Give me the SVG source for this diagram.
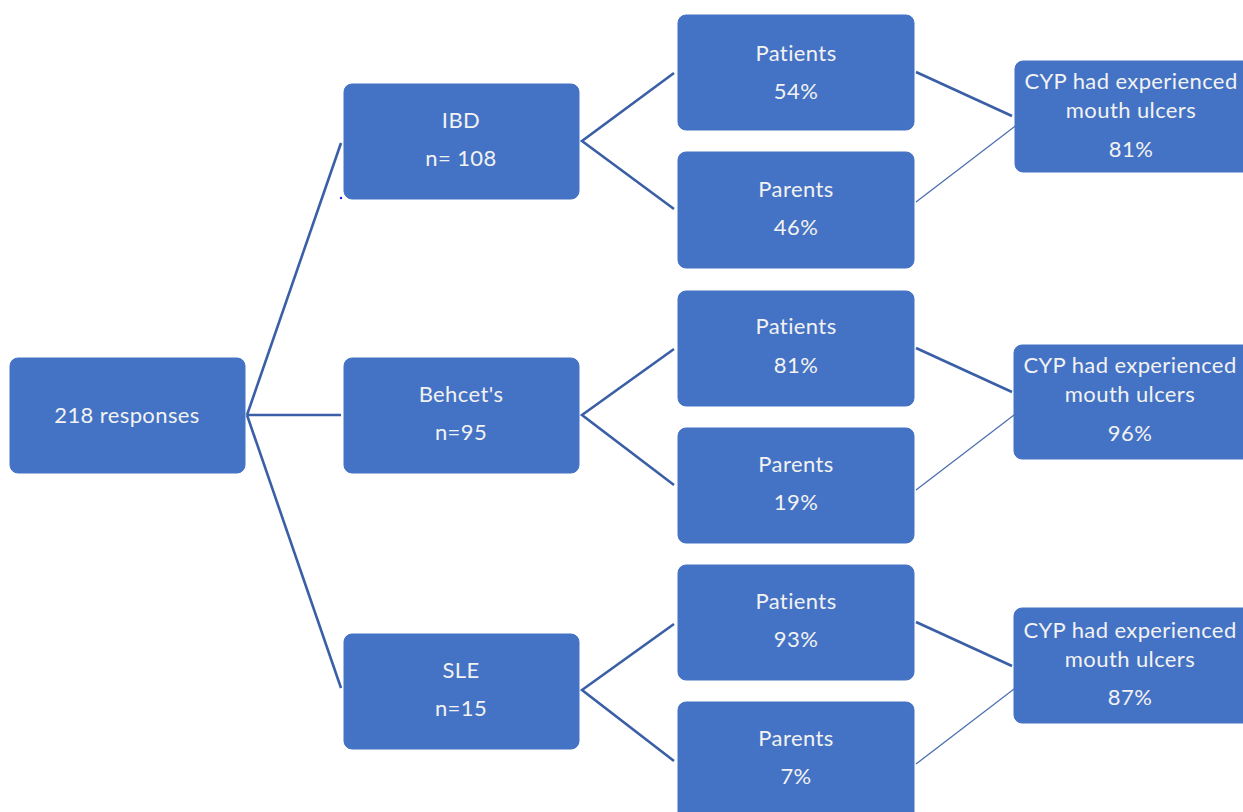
<svg xmlns="http://www.w3.org/2000/svg" width="1243" height="812" viewBox="0 0 1243 812">
<style>
.box{fill:#4472C4;stroke:#4472C4;stroke-width:1}
.t{font-family:Lato,"Open Sans","Liberation Sans",sans-serif;font-size:22px;letter-spacing:0.4px;font-variant-ligatures:none;fill:#F2F2F2;text-anchor:middle}
.c{stroke:#3A5FA6;stroke-width:2.6;fill:none}
.c2{stroke:#4A6EB0;stroke-width:1.3;fill:none}
</style>
<rect width="1243" height="812" fill="#FFFFFF"/>
<g id="connectors">
<line class="c" x1="247" y1="415" x2="341" y2="143"/>
<line class="c" x1="247" y1="415" x2="341" y2="415"/>
<line class="c" x1="247" y1="415" x2="341" y2="688"/>
<polyline class="c" points="674,73 582,141 674,209"/>
<polyline class="c" points="674,349 582,415 674,485"/>
<polyline class="c" points="674,624 582,690 674,761"/>
<line class="c" x1="916" y1="72" x2="1012" y2="116"/>
<line class="c2" x1="916" y1="202" x2="1018" y2="124"/>
<line class="c" x1="916" y1="348" x2="1012" y2="392"/>
<line class="c2" x1="916" y1="490" x2="1018" y2="412"/>
<line class="c" x1="916" y1="622" x2="1012" y2="666"/>
<line class="c2" x1="916" y1="764" x2="1018" y2="686"/>
<circle cx="341" cy="198" r="1.2" fill="#2020E0"/>
</g>
<g id="root"><rect class="box" x="10" y="358" width="235" height="115" rx="8"/><text class="t" x="127" y="423">218 responses</text></g>
<g id="ibd"><rect class="box" x="344" y="84" width="235" height="115" rx="8"/><text class="t" x="461" y="128">IBD</text><text class="t" x="461" y="166">n= 108</text></g>
<g id="behcet"><rect class="box" x="344" y="358" width="235" height="115" rx="8"/><text class="t" x="461" y="402">Behcet's</text><text class="t" x="461" y="440">n=95</text></g>
<g id="sle"><rect class="box" x="344" y="634" width="235" height="115" rx="8"/><text class="t" x="461" y="678">SLE</text><text class="t" x="461" y="716">n=15</text></g>
<g id="ibd-patients"><rect class="box" x="678" y="15" width="236" height="115" rx="8"/><text class="t" x="796" y="61">Patients</text><text class="t" x="796" y="99">54%</text></g>
<g id="ibd-parents"><rect class="box" x="678" y="152" width="236" height="116" rx="8"/><text class="t" x="796" y="197">Parents</text><text class="t" x="796" y="235">46%</text></g>
<g id="behcet-patients"><rect class="box" x="678" y="291" width="236" height="115" rx="8"/><text class="t" x="796" y="334">Patients</text><text class="t" x="796" y="373">81%</text></g>
<g id="behcet-parents"><rect class="box" x="678" y="428" width="236" height="115" rx="8"/><text class="t" x="796" y="472">Parents</text><text class="t" x="796" y="510">19%</text></g>
<g id="sle-patients"><rect class="box" x="678" y="565" width="236" height="115" rx="8"/><text class="t" x="796" y="609">Patients</text><text class="t" x="796" y="647">93%</text></g>
<g id="sle-parents"><rect class="box" x="678" y="702" width="236" height="120" rx="8"/><text class="t" x="796" y="746">Parents</text><text class="t" x="796" y="784">7%</text></g>
<g id="ibd-cyp"><rect class="box" x="1015" y="61" width="240" height="111" rx="8"/><text class="t" x="1131" y="89">CYP had experienced</text><text class="t" x="1131" y="118">mouth ulcers</text><text class="t" x="1131" y="157">81%</text></g>
<g id="behcet-cyp"><rect class="box" x="1014" y="345" width="240" height="114" rx="8"/><text class="t" x="1130" y="373">CYP had experienced</text><text class="t" x="1130" y="402">mouth ulcers</text><text class="t" x="1130" y="441">96%</text></g>
<g id="sle-cyp"><rect class="box" x="1014" y="608" width="240" height="115" rx="8"/><text class="t" x="1130" y="638">CYP had experienced</text><text class="t" x="1130" y="667">mouth ulcers</text><text class="t" x="1130" y="705">87%</text></g>
</svg>
